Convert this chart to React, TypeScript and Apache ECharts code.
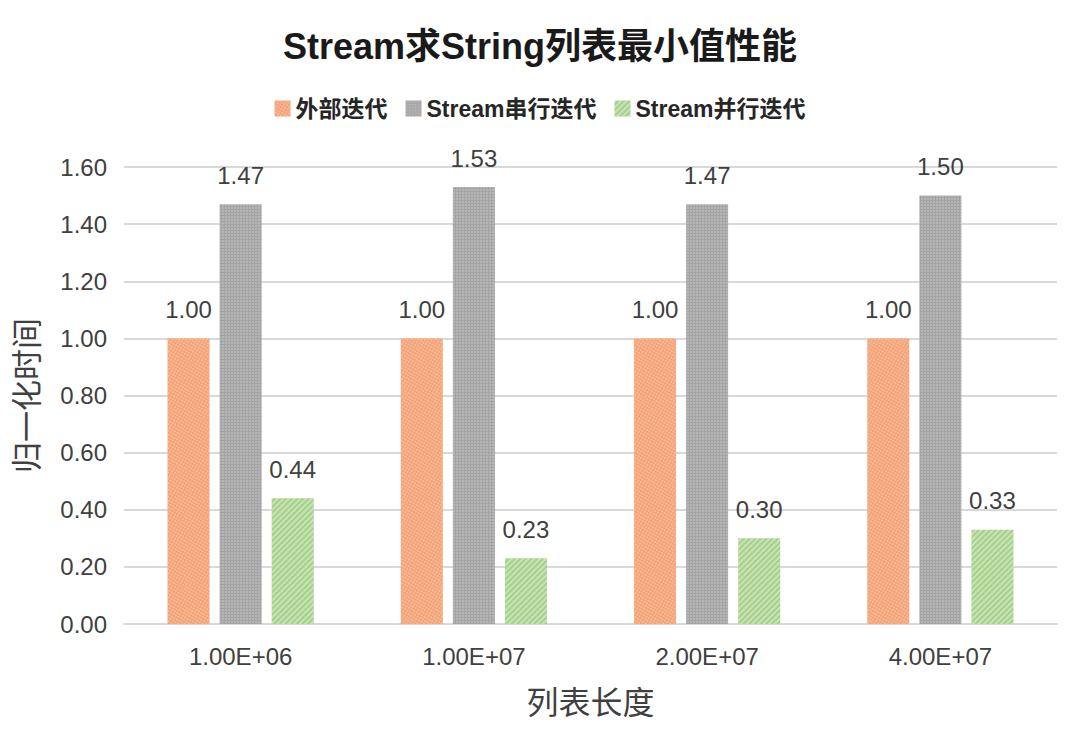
import React, { useEffect, useRef } from "react";
import * as echarts from "echarts";

const categories = ["1.00E+06", "1.00E+07", "2.00E+07", "4.00E+07"];
const seriesNames = ["外部迭代", "Stream串行迭代", "Stream并行迭代"];
const externalIter = [1.0, 1.0, 1.0, 1.0];
const streamSerial = [1.47, 1.53, 1.47, 1.5];
const streamParallel = [0.44, 0.23, 0.3, 0.33];
const colors = ["#F4A274", "#A4A4A4", "#A4D187"];

export default function App() {
  const ref = useRef<HTMLDivElement>(null);
  useEffect(() => {
    if (!ref.current) return;
    const chart = echarts.init(ref.current, null, { renderer: "svg" });
    const font = "Liberation Sans, Arial, Noto Sans CJK SC, sans-serif";
    const label = {
      show: true,
      position: "top",
      distance: 17,
      formatter: (p: any) => Number(p.value).toFixed(2),
      fontSize: 24,
      color: "#404040",
      fontFamily: font,
    };
    const datas = [externalIter, streamSerial, streamParallel];
    const decals = [
      { symbol: "rect", symbolSize: 1, dashArrayX: [2, 1], dashArrayY: [2, 1], color: "rgba(255,255,255,0.25)" },
      { symbol: "rect", symbolSize: 1, dashArrayX: [2, 1], dashArrayY: [2, 1], color: "rgba(255,255,255,0.2)" },
      { symbol: "rect", symbolSize: 1, dashArrayX: [1, 0], dashArrayY: [2, 2], rotation: -Math.PI / 4, color: "rgba(255,255,255,0.4)" },
    ];
    chart.setOption({
      animation: false,
      backgroundColor: "#ffffff",
      aria: { enabled: true, decal: { show: true } },
      title: {
        text: "Stream求String列表最小值性能",
        left: "center",
        top: 23,
        textStyle: { fontSize: 36, fontWeight: "bold", color: "#1a1a1a", fontFamily: font },
      },
      legend: {
        top: 92,
        left: "center",
        itemWidth: 16,
        itemHeight: 16,
        itemGap: 18,
        icon: "rect",
        textStyle: { fontSize: 23, fontWeight: "bold", color: "#262626", fontFamily: font },
        data: seriesNames,
      },
      grid: { left: 124, right: 23, top: 167, bottom: 116, containLabel: false },
      xAxis: {
        type: "category",
        data: categories,
        name: "列表长度",
        nameLocation: "middle",
        nameGap: 60,
        nameTextStyle: { fontSize: 32, color: "#404040", fontFamily: "Noto Sans CJK SC" },
        axisLine: { lineStyle: { color: "#D9D9D9", width: 2 } },
        axisTick: { show: false },
        axisLabel: { fontSize: 24, color: "#404040", margin: 20, fontFamily: font },
      },
      yAxis: {
        type: "value",
        min: 0,
        max: 1.6,
        interval: 0.2,
        name: "归一化时间",
        nameLocation: "middle",
        nameGap: 84,
        nameRotate: 90,
        nameTextStyle: { fontSize: 31, color: "#404040", fontFamily: "Noto Sans CJK SC" },
        axisLine: { show: false },
        axisTick: { show: false },
        axisLabel: {
          fontSize: 24,
          color: "#404040",
          margin: 17,
          fontFamily: font,
          formatter: (v: number) => v.toFixed(2),
        },
        splitLine: { lineStyle: { color: "#D9D9D9", width: 2 } },
      },
      series: seriesNames.map((name, i) => ({
        name,
        type: "bar",
        data: datas[i],
        barWidth: 42,
        barGap: "24%",
        itemStyle: { color: colors[i], decal: decals[i] },
        label,
      })),
      color: colors,
    });
    return () => chart.dispose();
  }, []);
  return (
    <div
      ref={ref}
      style={{ position: "fixed", left: 0, top: 0, width: 1080, height: 740 }}
    />
  );
}
